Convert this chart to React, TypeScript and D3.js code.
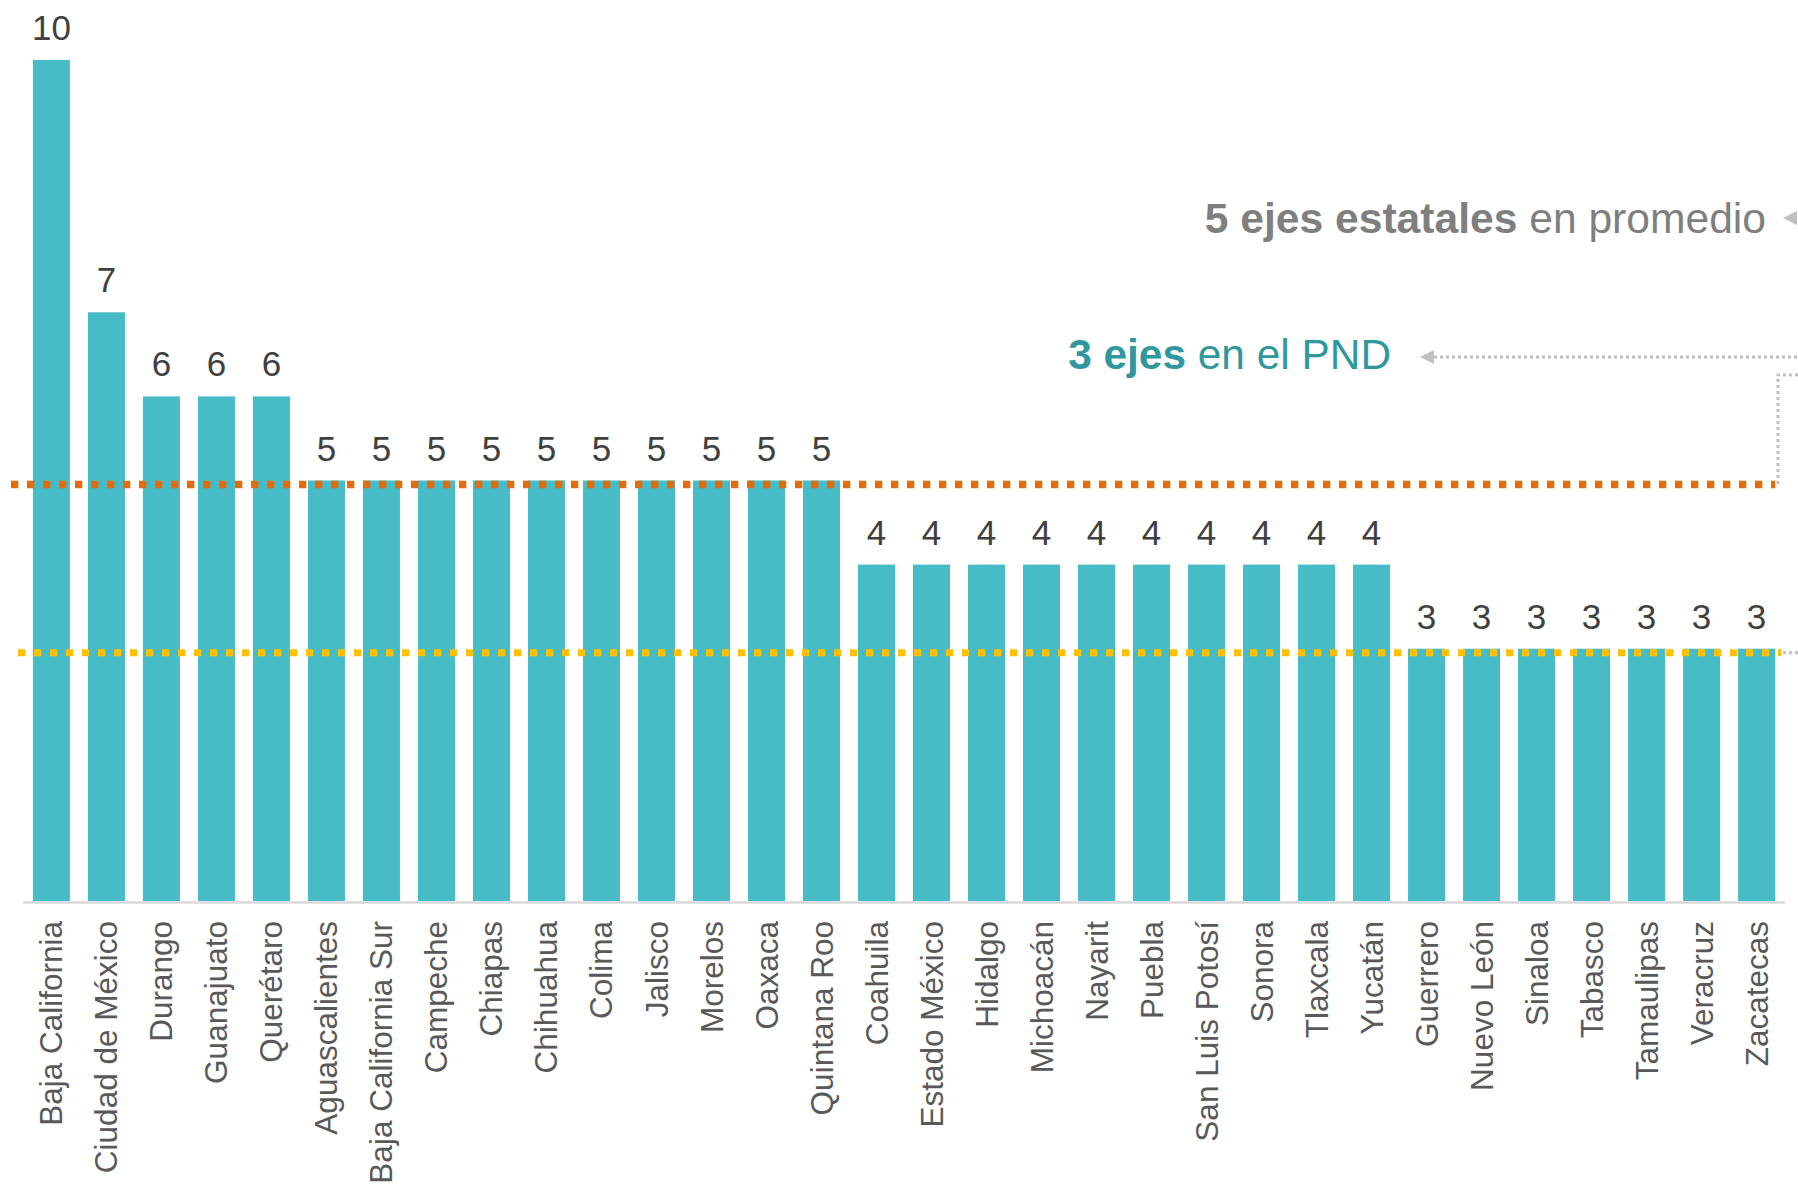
import React from "react";
import * as d3 from "d3";

const categories = [
  "Baja California", "Ciudad de México", "Durango", "Guanajuato", "Querétaro",
  "Aguascalientes", "Baja California Sur", "Campeche", "Chiapas", "Chihuahua",
  "Colima", "Jalisco", "Morelos", "Oaxaca", "Quintana Roo",
  "Coahuila", "Estado México", "Hidalgo", "Michoacán", "Nayarit",
  "Puebla", "San Luis Potosí", "Sonora", "Tlaxcala", "Yucatán",
  "Guerrero", "Nuevo León", "Sinaloa", "Tabasco", "Tamaulipas",
  "Veracruz", "Zacatecas",
];
const values = [
  10, 7, 6, 6, 6,
  5, 5, 5, 5, 5, 5, 5, 5, 5, 5,
  4, 4, 4, 4, 4, 4, 4, 4, 4, 4,
  3, 3, 3, 3, 3, 3, 3,
];
const averageValue = 5; // "5 ejes estatales en promedio"
const pndValue = 3; // "3 ejes en el PND"

const W = 1798;
const H = 1187;
const FONT = "'Liberation Sans', Arial, sans-serif";

export default function App() {
  const x = d3
    .scaleBand<string>()
    .domain(categories)
    .range([23, 1785])
    .paddingInner(0.327)
    .paddingOuter(0.18);
  const y = d3.scaleLinear().domain([0, 10]).range([901, 60]);
  const bw = x.bandwidth();
  const lineOffset = 4;
  const yAvg = y(averageValue) + lineOffset;
  const yPnd = y(pndValue) + lineOffset;
  const lastRight = (x(categories[categories.length - 1]) as number) + bw;

  return (
    <svg
      width={W}
      height={H}
      style={{ position: "absolute", left: 0, top: 0, background: "#fff" }}
      fontFamily={FONT}
    >
      {/* bars */}
      {categories.map((c, i) => (
        <rect
          key={c}
          x={x(c)}
          y={y(values[i])}
          width={bw}
          height={y(0) - y(values[i])}
          fill="#47BBC6"
        />
      ))}
      {/* axis line */}
      <line x1={23} x2={1785} y1={y(0) + 1.5} y2={y(0) + 1.5} stroke="#D9D9D9" strokeWidth={2.5} />

      {/* value labels */}
      {categories.map((c, i) => (
        <text
          key={"v" + c}
          x={(x(c) as number) + bw / 2}
          y={y(values[i]) - 20}
          textAnchor="middle"
          fontSize={35}
          fill="#404040"
        >
          {values[i]}
        </text>
      ))}

      {/* category labels */}
      {categories.map((c) => {
        const cx = (x(c) as number) + bw / 2;
        const ty = y(0) + 20;
        return (
          <text
            key={"c" + c}
            transform={`translate(${cx},${ty}) rotate(-90)`}
            textAnchor="end"
            dy="0.35em"
            fontSize={31.5}
            fill="#595959"
          >
            {c}
          </text>
        );
      })}

      {/* average line (orange) */}
      <line
        x1={11}
        x2={lastRight}
        y1={yAvg}
        y2={yAvg}
        stroke="#E46C0A"
        strokeWidth={7.5}
        strokeDasharray="7.3 8.7"
      />
      {/* PND line (yellow) */}
      <line
        x1={18}
        x2={lastRight + 6}
        y1={yPnd}
        y2={yPnd}
        stroke="#FFC000"
        strokeWidth={7}
        strokeDasharray="7.3 8.7"
      />

      {/* gray connectors */}
      <path
        d={`M${lastRight + 8},${yPnd} H${W}`}
        fill="none"
        stroke="#BFBFBF"
        strokeWidth={3}
        strokeDasharray="3 3"
      />
      <path
        d={`M${W},375 H1778 V${yAvg}`}
        fill="none"
        stroke="#BFBFBF"
        strokeWidth={3}
        strokeDasharray="3 3"
      />
      <path
        d={`M1434,357 H${W}`}
        fill="none"
        stroke="#BFBFBF"
        strokeWidth={3}
        strokeDasharray="3 3"
      />
      <path d="M1420,357 L1434,350 L1434,364 Z" fill="#BFBFBF" />
      <path d="M1783,218 L1797,211 L1797,225 Z" fill="#BFBFBF" />

      {/* annotations */}
      <text x={1766} y={233} textAnchor="end" fontSize={42.6} fill="#7F7F7F">
        <tspan fontWeight="bold">5 ejes estatales</tspan>
        <tspan> en promedio</tspan>
      </text>
      <text x={1391} y={369} textAnchor="end" fontSize={42.4} fill="#31979E">
        <tspan fontWeight="bold">3 ejes</tspan>
        <tspan> en el PND</tspan>
      </text>
    </svg>
  );
}
